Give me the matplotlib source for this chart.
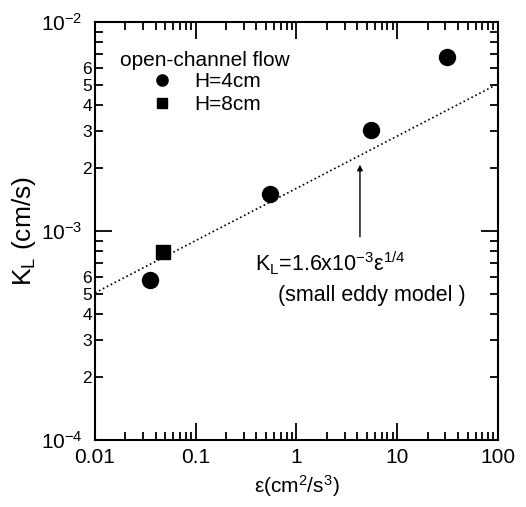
import matplotlib.pyplot as plt
import numpy as np
from matplotlib.ticker import LogLocator, FuncFormatter, NullFormatter

plt.rcParams['font.family'] = ['Liberation Sans', 'DejaVu Sans']
plt.rcParams['mathtext.fontset'] = 'custom'
plt.rcParams['mathtext.rm'] = 'Liberation Sans'
plt.rcParams['mathtext.it'] = 'Liberation Sans'

# data
eps_h4 = [0.035, 0.55, 5.5, 31.0]
kl_h4 = [5.85e-4, 1.5e-3, 3.05e-3, 6.8e-3]
eps_h8 = [0.047]
kl_h8 = [7.9e-4]

# small eddy model K_L = 1.6e-3 * eps^(1/4)
coef = 1.6e-3
eps_fit = np.logspace(-2, 2, 50)
kl_fit = coef * eps_fit**0.25

fig = plt.figure(figsize=(5.26, 5.07), dpi=100)
ax = fig.add_axes([0.1806, 0.1321, 0.766, 0.8245])

ax.plot(eps_fit, kl_fit, ':', color='black', lw=1.2)
ax.plot(eps_h4, kl_h4, 'o', color='black', ms=11.5, label='H=4cm', ls='none')
ax.plot(eps_h8, kl_h8, 's', color='black', ms=9.5, label='H=8cm', ls='none')

ax.set_xscale('log')
ax.set_yscale('log')
ax.set_xlim(0.01, 100)
ax.set_ylim(1e-4, 1e-2)

ax.xaxis.set_major_formatter(FuncFormatter(lambda v, p: '%g' % v))
ax.xaxis.set_minor_formatter(NullFormatter())
ax.yaxis.set_minor_locator(LogLocator(base=10, subs=np.arange(2, 10)))

def minor_lab(v, p):
    m = v / 10**np.floor(np.log10(v) + 1e-9)
    m = int(round(m))
    return str(m) if m in (2, 3, 4, 5, 6) else ''

ax.yaxis.set_minor_formatter(FuncFormatter(minor_lab))

ax.tick_params(which='both', direction='in', top=True, right=True, width=1.3)
ax.tick_params(which='major', length=12, labelsize=15)
ax.tick_params(which='minor', length=6, labelsize=12.5)
ax.tick_params(axis='y', which='minor', pad=2)
ax.tick_params(axis='y', which='major', pad=9)
ax.tick_params(axis='x', which='major', pad=6)
for s in ax.spines.values():
    s.set_linewidth(1.5)

ax.set_xlabel(r'$\mathrm{\varepsilon(cm^2/s^3)}$', fontsize=15, labelpad=4)
ax.set_ylabel(r'$\mathrm{K_L}$ (cm/s)', fontsize=19, labelpad=2)

ax.text(0.062, 0.909, 'open-channel flow', transform=ax.transAxes,
        fontsize=15, va='center', ha='left')
ax.legend(loc='upper left', bbox_to_anchor=(0.1404, 0.880), frameon=False,
          fontsize=15, handlelength=1.0, handletextpad=1.04, borderpad=0,
          borderaxespad=0, labelspacing=0.2, markerscale=0.7)

ax.annotate('', xy=(4.27, 2.14e-3), xytext=(4.27, 9.1e-4),
            arrowprops=dict(arrowstyle='-|>', color='black', lw=1, mutation_scale=8))
ax.text(0.387, 7.03e-4, r'$\mathrm{K_L}$=1.6x10$^{-3}$$\mathrm{\varepsilon}^{1/4}$',
        fontsize=15.5, va='center', ha='left')
ax.text(0.655, 4.94e-4, '(small eddy model )', fontsize=15.5, va='center', ha='left')

fig.savefig('out.png', dpi=100)
